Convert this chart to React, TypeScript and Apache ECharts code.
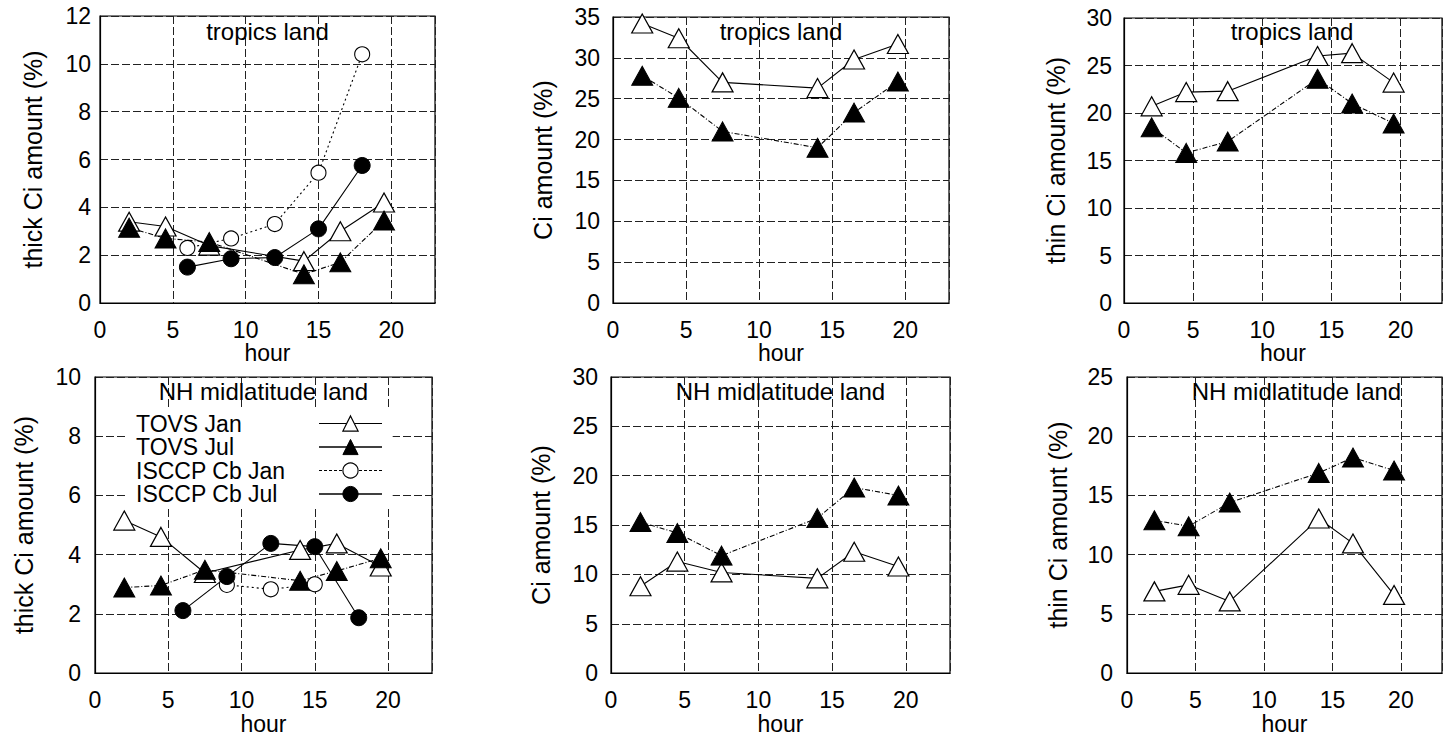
import React, { useEffect, useRef } from "react";
import * as echarts from "echarts";

// ---------- data ----------
const hoursTovs = [2, 4.5, 7.5, 14, 16.5, 19.5];
const hoursIsccp = [6, 9, 12, 15, 18];

const panelTitles = [
  "tropics land",
  "tropics land",
  "tropics land",
  "NH midlatitude land",
  "NH midlatitude land",
  "NH midlatitude land",
];
const yNames = [
  "thick Ci amount (%)",
  "Ci amount (%)",
  "thin Ci amount (%)",
  "thick Ci amount (%)",
  "Ci amount (%)",
  "thin Ci amount (%)",
];
const yMax = [12, 35, 30, 10, 30, 25];
const yStep = [2, 5, 5, 2, 5, 5];
const xMax = 23;
const xStep = 5;
const xLabel = "hour";

const legendNames = ["TOVS Jan", "TOVS Jul", "ISCCP Cb Jan", "ISCCP Cb Jul"];

// TOVS Jan (open triangles), one row per panel
const tovsJan = [
  [3.4, 3.2, 2.4, 1.75, 3.0, 4.2],
  [34.2, 32.4, 27.0, 26.3, 29.8, 31.7],
  [20.7, 22.2, 22.3, 26.0, 26.3, 23.2],
  [5.15, 4.6, 3.38, 4.16, 4.38, 3.6],
  [8.8, 11.3, 10.2, 9.6, 12.3, 10.8],
  [6.9, 7.45, 6.05, 13.05, 10.95, 6.6],
];
// TOVS Jul (filled triangles)
const tovsJul = [
  [3.15, 2.7, 2.55, 1.2, 1.7, 3.45],
  [27.8, 25.1, 21.0, 19.0, 23.3, 27.1],
  [18.5, 15.8, 17.0, 23.6, 21.0, 18.9],
  [2.89, 2.96, 3.49, 3.12, 3.45, 3.88],
  [15.3, 14.2, 11.9, 15.7, 18.8, 18.0],
  [12.9, 12.4, 14.4, 16.9, 18.2, 17.1],
];
// ISCCP Cb (only in the thick Ci panels: 0 and 3)
const isccpJanTropics = [2.3, 2.7, 3.3, 5.45, 10.4];
const isccpJulTropics = [1.5, 1.85, 1.9, 3.1, 5.75];
const isccpJanNH = [null, 2.98, 2.83, 3.0, null];
const isccpJulNH = [2.11, 3.26, 4.38, 4.27, 1.87];

// ---------- layout / style ----------
const FONT = "'Liberation Sans', Arial, Helvetica, sans-serif";
const grids = [
  { left: 100, top: 16, width: 335, height: 287 },
  { left: 613, top: 17, width: 336, height: 286 },
  { left: 1124, top: 18, width: 336, height: 285 },
  { left: 95, top: 377, width: 337, height: 298 },
  { left: 611, top: 377, width: 339, height: 298 },
  { left: 1127, top: 377, width: 339, height: 298 },
];
const yLabelMargin = [9, 13, 12, 14, 13, 14];
const yNameGap = [55, 58, 56, 59, 58, 57];
const titleTop = [19, 19, 19, 379, 379, 379];

const zip = (xs: number[], ys: (number | null)[]) =>
  xs.map((x, i) => [x, ys[i]]).filter((p) => p[1] !== null && p[1] !== undefined);

const gridLine = { show: true, lineStyle: { color: "#222", width: 1, type: [8, 3] as any } };

const styles: Record<string, any> = {
  "TOVS Jan": {
    symbol: "triangle",
    symbolSize: [21, 19],
    itemStyle: { color: "#fff", borderColor: "#000", borderWidth: 1.2 },
    lineStyle: { color: "#000", width: 1.1, type: "solid" },
  },
  "TOVS Jul": {
    symbol: "triangle",
    symbolSize: [21, 19],
    itemStyle: { color: "#000", borderColor: "#000", borderWidth: 1 },
    lineStyle: { color: "#000", width: 1.1, type: [5, 2, 1, 2] },
  },
  "ISCCP Cb Jan": {
    symbol: "circle",
    symbolSize: 15,
    itemStyle: { color: "#fff", borderColor: "#000", borderWidth: 1.1 },
    lineStyle: { color: "#000", width: 1.1, type: [2, 3] },
  },
  "ISCCP Cb Jul": {
    symbol: "circle",
    symbolSize: 16,
    itemStyle: { color: "#000", borderColor: "#000", borderWidth: 1 },
    lineStyle: { color: "#000", width: 1.1, type: "solid" },
  },
};

function makeSeries(name: string, idx: number, xs: number[], ys: (number | null)[]) {
  return {
    type: "line",
    name,
    xAxisIndex: idx,
    yAxisIndex: idx,
    data: zip(xs, ys),
    clip: false,
    showSymbol: true,
    ...styles[name],
    emphasis: { disabled: true },
  };
}

export default function App() {
  const ref = useRef<HTMLDivElement>(null);
  useEffect(() => {
    if (!ref.current) return;
    const chart = echarts.init(ref.current, undefined, { renderer: "svg" });

    const series: any[] = [];
    for (let i = 0; i < 6; i++) {
      series.push(makeSeries("TOVS Jan", i, hoursTovs, tovsJan[i]));
      series.push(makeSeries("TOVS Jul", i, hoursTovs, tovsJul[i]));
    }
    series.push(makeSeries("ISCCP Cb Jan", 0, hoursIsccp, isccpJanTropics));
    series.push(makeSeries("ISCCP Cb Jul", 0, hoursIsccp, isccpJulTropics));
    series.push(makeSeries("ISCCP Cb Jan", 3, hoursIsccp, isccpJanNH));
    series.push(makeSeries("ISCCP Cb Jul", 3, hoursIsccp, isccpJulNH));

    const legendLine: Record<string, any> = {
      "TOVS Jan": { color: "#000", width: 1.2, type: "solid" },
      "TOVS Jul": { color: "#000", width: 1.4, type: "solid" },
      "ISCCP Cb Jan": { color: "#000", width: 1, type: [3, 2] },
      "ISCCP Cb Jul": { color: "#000", width: 1.4, type: "solid" },
    };

    const option: any = {
      animation: false,
      backgroundColor: "#fff",
      textStyle: { fontFamily: FONT, color: "#000" },
      title: panelTitles.map((t, i) => ({
        text: t,
        left: grids[i].left + grids[i].width / 2,
        top: titleTop[i],
        textAlign: "center",
        padding: 0,
        textStyle: { fontSize: 24, fontWeight: "normal", color: "#000", fontFamily: FONT },
      })),
      grid: grids.map((g) => ({
        ...g,
        show: true,
        borderColor: "#000",
        borderWidth: 1.2,
        backgroundColor: "transparent",
        containLabel: false,
      })),
      legend: {
        orient: "vertical",
        left: 128,
        top: 409,
        align: "right",
        itemWidth: 63,
        itemHeight: 19,
        itemGap: 0.5,
        padding: [3, 10, 2, 8],
        backgroundColor: "#fff",
        selectedMode: false,
        data: legendNames.map((n) => ({
          name: n,
          itemStyle: { ...styles[n].itemStyle },
          lineStyle: legendLine[n],
        })),
        formatter: (name: string) => `{n|${name}}`,
        textStyle: {
          fontFamily: FONT,
          fontSize: 23,
          color: "#000",
          lineHeight: 23,
          rich: { n: { width: 178, align: "left", fontSize: 23, fontFamily: FONT, color: "#000", lineHeight: 23 } },
        },
      },
      xAxis: grids.map((_, i) => ({
        type: "value",
        gridIndex: i,
        min: 0,
        max: xMax,
        interval: xStep,
        name: xLabel,
        nameLocation: "middle",
        nameGap: 34,
        nameTextStyle: { fontSize: 23, color: "#000", fontFamily: FONT },
        axisLine: { show: true, lineStyle: { color: "#000", width: 1.2 } },
        axisTick: { show: false },
        axisLabel: {
          fontSize: 23,
          color: "#000",
          fontFamily: FONT,
          margin: 15,
          formatter: (v: number) => (v % xStep === 0 ? String(v) : ""),
        },
        splitLine: gridLine,
      })),
      yAxis: grids.map((_, i) => ({
        type: "value",
        gridIndex: i,
        min: 0,
        max: yMax[i],
        interval: yStep[i],
        name: yNames[i],
        nameLocation: "middle",
        nameGap: yNameGap[i],
        nameTextStyle: { fontSize: 25, color: "#000", fontFamily: FONT },
        axisLine: { show: true, lineStyle: { color: "#000", width: 1.2 } },
        axisTick: { show: false },
        axisLabel: { fontSize: 23, color: "#000", fontFamily: FONT, margin: yLabelMargin[i] },
        splitLine: gridLine,
      })),
      series,
    };
    chart.setOption(option);
    return () => chart.dispose();
  }, []);
  return (
    <div
      ref={ref}
      style={{ position: "fixed", left: 0, top: 0, width: 1445, height: 736, background: "#fff" }}
    />
  );
}
